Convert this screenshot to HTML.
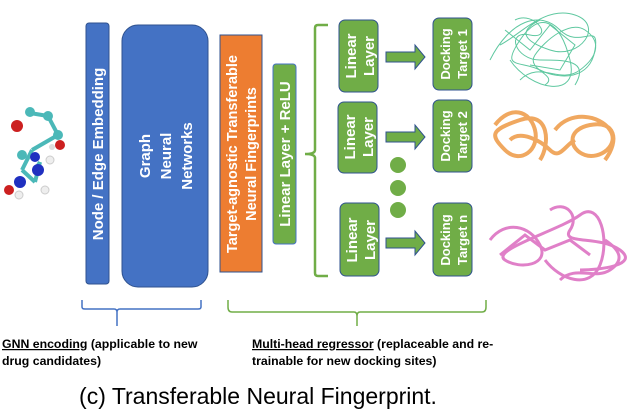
<!DOCTYPE html>
<html><head><style>body{margin:0;background:#fff}svg{display:block}text{font-family:"Liberation Sans",sans-serif}</style></head><body>
<svg width="628" height="414" viewBox="0 0 628 414" xmlns="http://www.w3.org/2000/svg">
<!-- molecule -->
<g stroke="#4bb8b8" stroke-width="4">
<line x1="30" y1="113" x2="48" y2="116"/><line x1="48" y1="116" x2="58" y2="135"/><line x1="58" y1="135" x2="32" y2="150"/>
<line x1="32" y1="150" x2="22" y2="170"/><line x1="22" y1="170" x2="35" y2="182"/><line x1="35" y1="182" x2="40" y2="162"/><line x1="40" y1="162" x2="35" y2="170"/>
</g>
<circle cx="30" cy="112" r="5" fill="#4bb8b8"/><circle cx="48" cy="116" r="5" fill="#4bb8b8"/><circle cx="58" cy="135" r="5" fill="#4bb8b8"/>
<circle cx="17" cy="126" r="6" fill="#cc2020"/><circle cx="60" cy="145" r="5" fill="#cc2020"/><circle cx="52" cy="147" r="3" fill="#ddd"/>
<circle cx="22" cy="155" r="5" fill="#4bb8b8"/><circle cx="35" cy="157" r="5" fill="#2030c0"/><circle cx="38" cy="170" r="6" fill="#2030c0"/>
<circle cx="20" cy="182" r="6" fill="#2030c0"/><circle cx="9" cy="190" r="5" fill="#cc2020"/><circle cx="50" cy="160" r="4" fill="#eee" stroke="#ccc"/><circle cx="45" cy="190" r="4" fill="#eee" stroke="#ccc"/><circle cx="19" cy="195" r="4" fill="#eee" stroke="#ccc"/>
<!-- left boxes -->
<rect x="86" y="23" width="23" height="261" rx="3" fill="#4472c4" stroke="#2f528f"/>
<text transform="translate(103,154) rotate(-90)" text-anchor="middle" font-size="15" font-weight="bold" fill="#fff">Node / Edge Embedding</text>
<rect x="122" y="25" width="86" height="262" rx="16" fill="#4472c4" stroke="#2f528f"/>
<g font-size="15" font-weight="bold" fill="#fff" text-anchor="middle">
<text transform="translate(150,156) rotate(-90)">Graph</text>
<text transform="translate(171,156) rotate(-90)">Neural</text>
<text transform="translate(192,156) rotate(-90)">Networks</text>
</g>
<rect x="220" y="35" width="42" height="237" fill="#ed7d31" stroke="#2f528f"/>
<g font-size="14.5" font-weight="bold" fill="#fff" text-anchor="middle">
<text transform="translate(237,154) rotate(-90)">Target-agnostic Transferable</text>
<text transform="translate(256,154) rotate(-90)">Neural Fingerprints</text>
</g>
<rect x="273" y="64" width="23" height="180" rx="3" fill="#70ad47" stroke="#4472c4"/>
<text transform="translate(290,154) rotate(-90)" text-anchor="middle" font-size="15" font-weight="bold" fill="#fff">Linear Layer + ReLU</text>
<!-- bracket -->
<path d="M328,25 H318 Q315,25 315,28 V150 Q315,154 305,154 Q315,154 315,158 V273 Q315,276 318,276 H328" fill="none" stroke="#70ad47" stroke-width="2.5"/>
<!-- linear layers -->
<g fill="#70ad47" stroke="#2f528f">
<rect x="339" y="20" width="39" height="72" rx="6"/><rect x="338" y="102" width="39" height="71" rx="6"/><rect x="340" y="203" width="39" height="73" rx="6"/>
<rect x="433" y="18" width="39" height="72" rx="6"/><rect x="433" y="100" width="39" height="72" rx="6"/><rect x="433" y="203" width="39" height="73" rx="6"/>
</g>
<g font-size="15" font-weight="bold" fill="#fff" text-anchor="middle">
<text transform="translate(356,56) rotate(-90)">Linear</text><text transform="translate(374,56) rotate(-90)">Layer</text>
<text transform="translate(355,137) rotate(-90)">Linear</text><text transform="translate(373,137) rotate(-90)">Layer</text>
<text transform="translate(357,240) rotate(-90)">Linear</text><text transform="translate(375,240) rotate(-90)">Layer</text>
</g>
<g font-size="13" font-weight="bold" fill="#fff" text-anchor="middle">
<text transform="translate(450,54) rotate(-90)">Docking</text><text transform="translate(467,54) rotate(-90)">Target 1</text>
<text transform="translate(450,136) rotate(-90)">Docking</text><text transform="translate(467,136) rotate(-90)">Target 2</text>
<text transform="translate(450,240) rotate(-90)">Docking</text><text transform="translate(467,240) rotate(-90)">Target n</text>
</g>
<!-- arrows -->
<g fill="#70ad47" stroke="#2f528f" stroke-width="1">
<path d="M386,52 H415 V45 L425,57 L415,69 V62 H386 Z"/>
<path d="M386,132 H415 V125 L425,137 L415,149 V142 H386 Z"/>
<path d="M386,238 H415 V231 L425,243 L415,255 V248 H386 Z"/>
</g>
<g fill="#70ad47"><circle cx="398" cy="165" r="8"/><circle cx="398" cy="188" r="8"/><circle cx="398" cy="210" r="8"/></g>
<!-- proteins -->
<g fill="none" stroke="#5fc8a0" stroke-width="1">
<path d="M490,60 C510,20 540,10 560,30 S600,20 595,50 S560,80 540,70 S500,70 520,40 S560,20 570,60 S530,90 510,60"/>
<path d="M500,45 C520,35 545,5 575,15 S580,60 550,50 S520,30 540,20"/>
<path d="M505,30 L530,50 L550,25 L575,45 L560,70 L530,65"/>
<path d="M520,80 C540,60 560,85 580,70 S600,40 585,30 S545,40 535,55 S560,75 545,85"/>
<path d="M515,20 C535,10 555,40 530,35 S515,60 540,60 S590,60 575,85"/>
</g>
<g fill="none" stroke="#f0a860" stroke-width="4">
<path d="M495,125 C510,105 530,110 535,130 S520,165 505,150 S490,130 520,120 S550,145 540,160"/>
<path d="M555,130 C570,110 600,115 610,130 S600,160 585,155 S565,130 590,125 S620,140 605,160"/>
<path d="M510,140 C520,130 540,140 550,150 S565,145 575,140"/>
</g>
<g fill="none" stroke="#e080c8" stroke-width="3">
<path d="M490,240 C505,220 530,225 540,245 S520,270 505,260 S560,230 580,215 S610,240 600,265 S560,280 545,260"/>
<path d="M550,210 C565,200 580,215 570,230 S600,235 620,250 S600,270 580,270"/>
<path d="M500,255 L525,235 L545,250 L570,240 L590,255"/>
<path d="M560,280 C575,265 595,280 610,270 S620,250 605,240"/>
</g>
<!-- bottom braces -->
<path d="M82,300 V307 Q82,309 85,309 H114 Q117,309 117,312 V326 M117,312 Q117,309 120,309 H198 Q201,309 201,307 V300" fill="none" stroke="#4472c4" stroke-width="1.5"/>
<path d="M228,300 V307 Q228,312 232,312 H354 Q357,312 357,316 V326 M357,316 Q357,312 360,312 H482 Q486,312 486,307 V300" fill="none" stroke="#70ad47" stroke-width="1.5"/>
<g font-size="12.3" font-weight="bold" fill="#000">
<text x="2" y="348"><tspan text-decoration="underline">GNN encoding</tspan> (applicable to new</text>
<text x="2" y="365">drug candidates)</text>
<text x="252" y="348"><tspan text-decoration="underline">Multi-head regressor</tspan> (replaceable and re-</text>
<text x="252" y="365">trainable for new docking sites)</text>
</g>
<text x="258" y="404" text-anchor="middle" font-size="23" fill="#000">(c) Transferable Neural Fingerprint.</text>
</svg>
</body></html>
